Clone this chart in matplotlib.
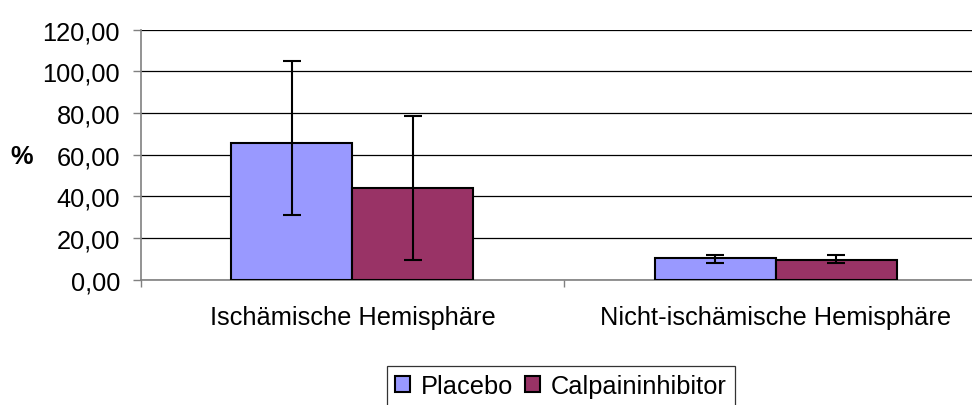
import matplotlib.pyplot as plt
import numpy as np

categories = ["Ischämische Hemisphäre", "Nicht-ischämische Hemisphäre"]
series_names = ["Placebo", "Calpaininhibitor"]
placebo = [65.8, 10.4]
placebo_err_low = [34.6, 2.2]
placebo_err_high = [39.0, 1.6]
calpain = [44.0, 9.5]
calpain_err_low = [34.5, 1.3]
calpain_err_high = [34.7, 2.5]
y_ticks = [0, 20, 40, 60, 80, 100, 120]

plt.rcParams['font.family'] = ['Liberation Sans', 'DejaVu Sans']
fs = 18.3

fig = plt.figure(figsize=(9.72, 4.06), dpi=100)
# plot area runs past the right edge of the picture, as in the reference
ax = fig.add_axes([0.145, 0.3087, 0.8705, 0.6157])

x = np.arange(len(categories))
w = 0.286
err_kw = dict(ecolor='black', elinewidth=1.5, capsize=6.5, capthick=1.5)
ax.bar(x - w / 2, placebo, w, color='#9999FF', edgecolor='black', linewidth=1.5,
       yerr=[placebo_err_low, placebo_err_high], error_kw=err_kw, label=series_names[0], zorder=3)
ax.bar(x + w / 2, calpain, w, color='#993366', edgecolor='black', linewidth=1.5,
       yerr=[calpain_err_low, calpain_err_high], error_kw=err_kw, label=series_names[1], zorder=3)

ax.set_xlim(-0.5, 1.5)
ax.set_ylim(0, 120)
ax.set_yticks(y_ticks)
ax.set_yticklabels([f"{v:.2f}".replace('.', ',') for v in y_ticks], fontsize=fs)
ax.yaxis.grid(True, color='black', linewidth=0.9, zorder=0)
ax.set_axisbelow(True)

ax.set_xticks(x)
ax.set_xticklabels(categories, fontsize=fs)
ax.set_xticks([-0.5, 0.5, 1.5], minor=True)
ax.tick_params(axis='x', which='major', length=0, pad=18)
ax.tick_params(axis='x', which='minor', length=5, color='#808080', width=1)
ax.tick_params(axis='y', length=6, color='#808080', width=1, pad=9)

for side in ['top', 'right']:
    ax.spines[side].set_visible(False)
for side in ['left', 'bottom']:
    ax.spines[side].set_color('#808080')
    ax.spines[side].set_linewidth(1.2)

fig.text(0.022, 0.613, '%', fontsize=fs, fontweight='bold', ha='center', va='center')

leg = fig.legend(loc='upper left', bbox_to_anchor=(0.398, 0.097), ncol=2, fontsize=fs,
                 frameon=True, fancybox=False, handlelength=0.6, handleheight=0.6,
                 handletextpad=0.42, columnspacing=0.45, borderpad=0.33, borderaxespad=0)
leg.get_frame().set_edgecolor('black')
leg.get_frame().set_linewidth(0.9)
for h in leg.legend_handles:
    h.set_linewidth(1.5)

fig.savefig('out.png', dpi=100)
